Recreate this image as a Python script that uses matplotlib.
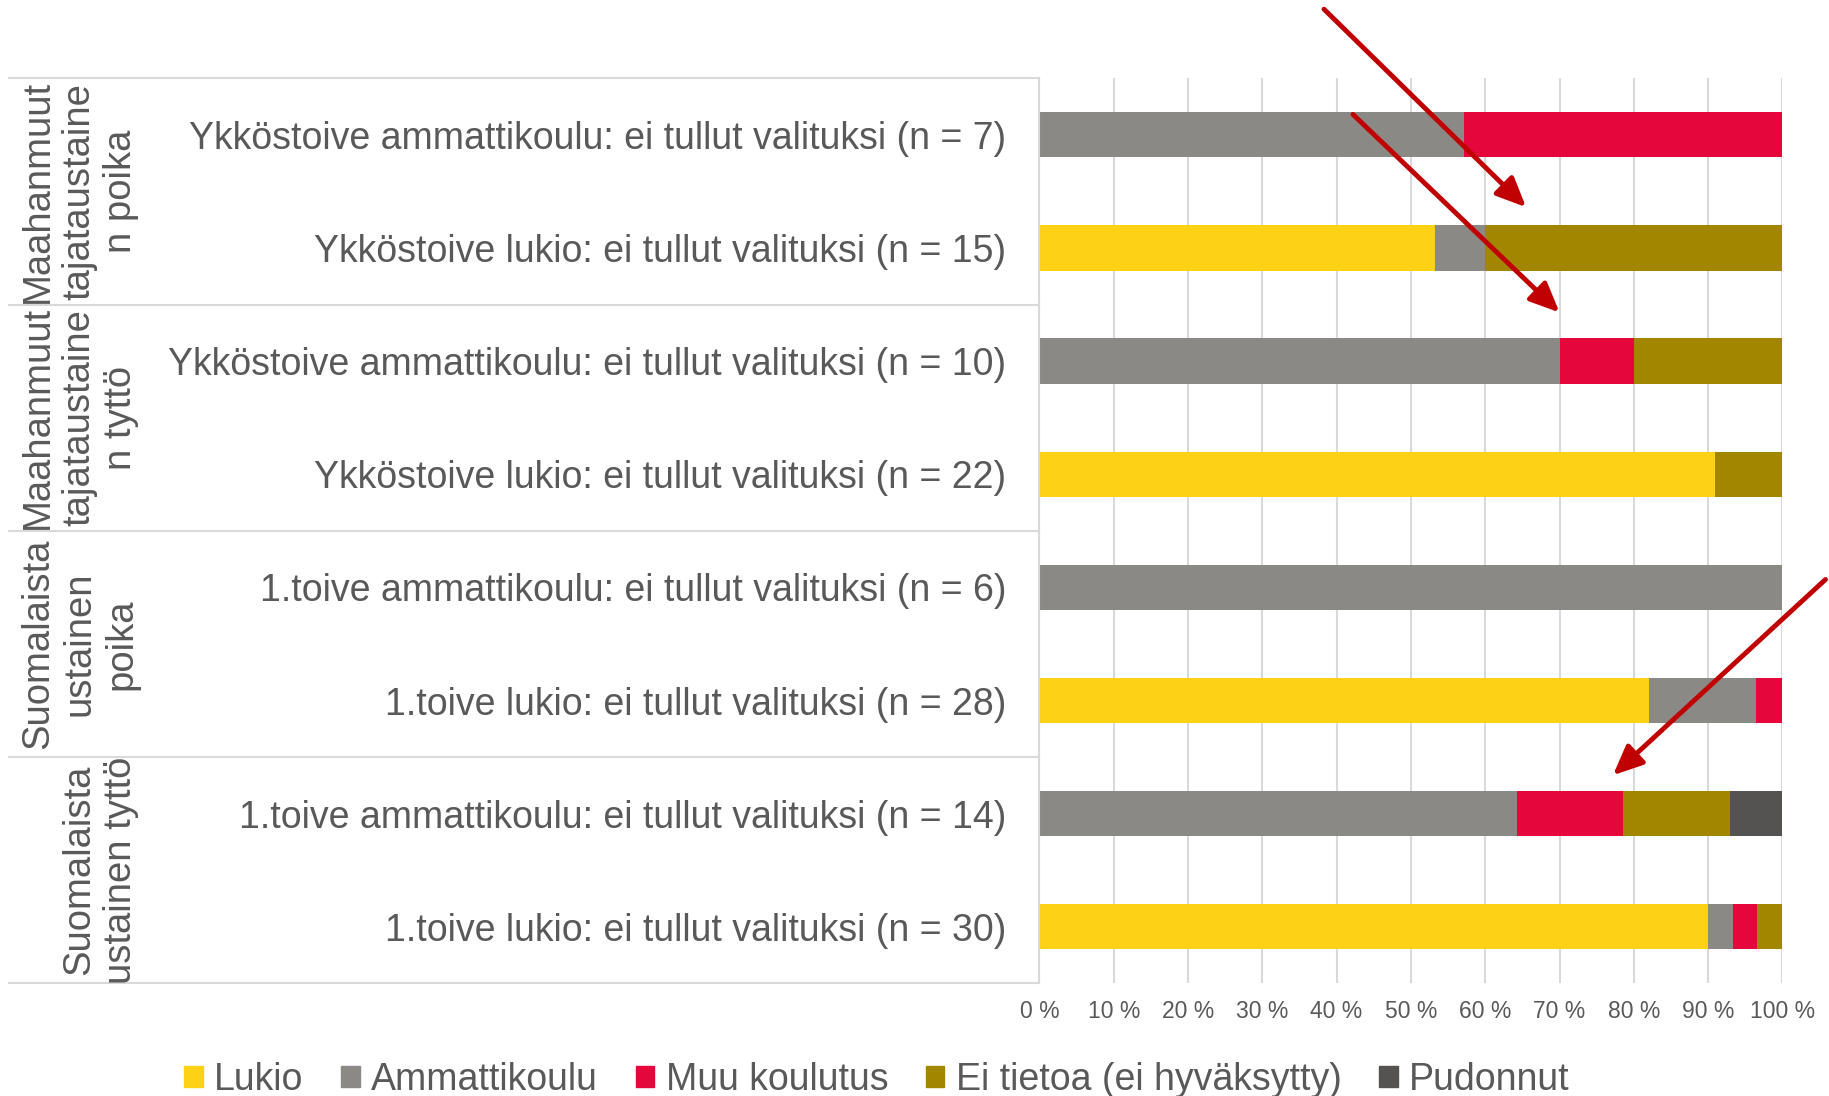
import matplotlib
matplotlib.use("Agg")
import matplotlib.pyplot as plt
from matplotlib.patches import Patch
import matplotlib.transforms as mtransforms
import numpy as np

plt.rcParams['font.family'] = ['Liberation Sans', 'DejaVu Sans']

categories = [
    "Ykköstoive ammattikoulu: ei tullut valituksi (n = 7)",
    "Ykköstoive lukio: ei tullut valituksi (n = 15)",
    "Ykköstoive ammattikoulu: ei tullut valituksi (n = 10)",
    "Ykköstoive lukio: ei tullut valituksi (n = 22)",
    "1.toive ammattikoulu: ei tullut valituksi (n = 6)",
    "1.toive lukio: ei tullut valituksi (n = 28)",
    "1.toive ammattikoulu: ei tullut valituksi (n = 14)",
    "1.toive lukio: ei tullut valituksi (n = 30)",
]
groups = [
    "Maahanmuut\ntajataustaine\nn poika",
    "Maahanmuut\ntajataustaine\nn tyttö",
    "Suomalaista\nustainen\npoika",
    "Suomalaista\nustainen tyttö",
]
series_names = ["Lukio", "Ammattikoulu", "Muu koulutus",
                "Ei tietoa (ei hyväksytty)", "Pudonnut"]
lukio = [0, 53.3, 0, 90.9, 0, 82.1, 0, 90.0]
ammattikoulu = [57.1, 6.7, 70.0, 0, 100.0, 14.3, 64.3, 3.3]
muu_koulutus = [42.9, 0, 10.0, 0, 0, 3.6, 14.3, 3.3]
ei_tietoa = [0, 40.0, 20.0, 9.1, 0, 0, 14.3, 3.4]
pudonnut = [0, 0, 0, 0, 0, 0, 7.1, 0]
x_ticks = [0, 10, 20, 30, 40, 50, 60, 70, 80, 90, 100]
x_tick_labels = ["0 %", "10 %", "20 %", "30 %", "40 %", "50 %",
                 "60 %", "70 %", "80 %", "90 %", "100 %"]

colors = ["#FDD116", "#8B8985", "#E5063B", "#A38600", "#545351"]
text_color = "#595959"
line_color = "#D9D9D9"

W, H = 1829, 1096
fig = plt.figure(figsize=(W / 100, H / 100), dpi=100)
ax_l, ax_r, ax_t, ax_b = 1039.4, 1782.4, 78.2, 983.4
ax = fig.add_axes([ax_l / W, 1 - ax_b / H, (ax_r - ax_l) / W, (ax_b - ax_t) / H])

series = [lukio, ammattikoulu, muu_koulutus, ei_tietoa, pudonnut]
y = np.arange(len(categories))
left = np.zeros(len(categories))
for name, vals, c in zip(series_names, series, colors):
    vals = np.array(vals, dtype=float)
    ax.barh(y, vals, left=left, height=0.4, color=c, label=name, linewidth=0)
    left += vals

ax.set_xlim(0, 100)
ax.set_ylim(len(categories) - 0.5, -0.5)
ax.set_xticks(x_ticks)
ax.set_xticklabels(x_tick_labels, fontsize=16.5, color=text_color)
ax.set_yticks(y)
ax.set_yticklabels(categories, fontsize=27, color=text_color)
ax.tick_params(axis='y', length=0, pad=24)
ax.tick_params(axis='x', length=0, pad=12)
ax.xaxis.grid(True, color=line_color, lw=1.5)
ax.set_axisbelow(True)
for s in ["top", "right", "bottom"]:
    ax.spines[s].set_visible(False)
ax.spines["left"].set_color(line_color)
ax.spines["left"].set_linewidth(1.5)

# group separators and group labels
blend = mtransforms.blended_transform_factory(fig.transFigure, ax.transData)
for yb in [-0.5, 1.5, 3.5, 5.5, 7.5]:
    ax.plot([9 / W, ax_l / W], [yb, yb], transform=blend, color=line_color,
            lw=1.5, clip_on=False)
for i, g in enumerate(groups):
    yc = 2 * i + 0.5
    ax.text(139 / W, yc, g, transform=blend, rotation=90, ha='right',
            va='center', multialignment='center', fontsize=27.5,
            color=text_color, linespacing=1.2)

# arrows
arrow_props = dict(arrowstyle='-|>,head_length=0.9,head_width=0.4',
                   color='#C00000', lw=3.5, mutation_scale=20,
                   shrinkA=0, shrinkB=0)
for tail, head in [((38.3, -1.11), (65.5, 0.64)),
                   ((42.2, -0.18), (70.0, 1.57)),
                   ((105.8, 3.93), (77.2, 5.66))]:
    ax.annotate('', xy=head, xytext=tail, arrowprops=arrow_props,
                annotation_clip=False)

handles = [Patch(color=c, label=n) for n, c in zip(series_names, colors)]
leg = fig.legend(handles=handles, loc='center', ncol=5,
                 bbox_to_anchor=(877 / W, 1 - 1080 / H), frameon=False,
                 fontsize=27, handlelength=0.5, handleheight=0.5,
                 handletextpad=0.3, columnspacing=1.0, labelcolor=text_color)

fig.savefig("out.png", dpi=100)
